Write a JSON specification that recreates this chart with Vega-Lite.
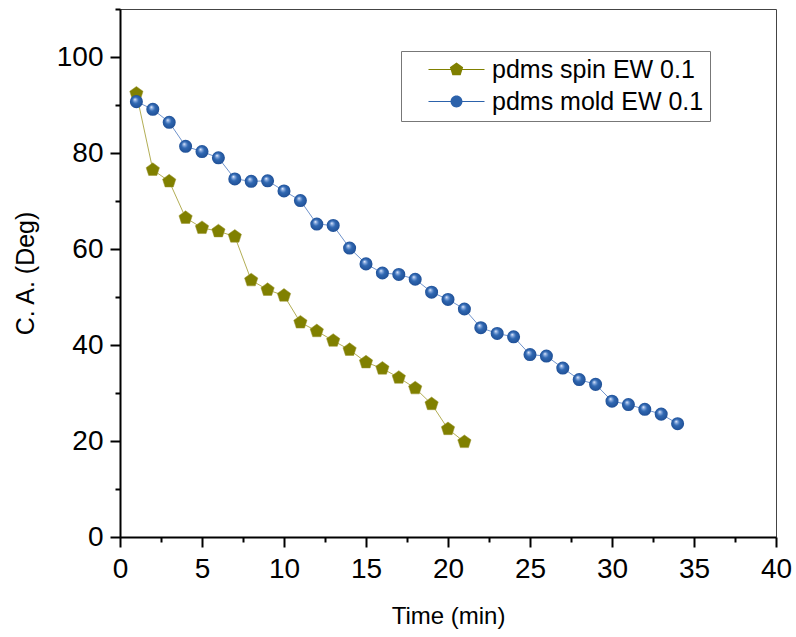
{
  "$schema": "https://vega.github.io/schema/vega-lite/v6.json",
  "width": 656,
  "height": 528,
  "autosize": {"type": "none"},
  "padding": {"left": 120, "top": 9, "right": 20, "bottom": 100},
  "background": "white",
  "config": {
    "view": {"stroke": "#444", "strokeWidth": 1},
    "font": "Liberation Sans",
    "axis": {"grid": false, "domainColor": "#000", "tickColor": "#000", "labelColor": "#000", "titleColor": "#000", "labelFont": "Liberation Sans", "titleFont": "Liberation Sans", "titleFontWeight": "normal"}
  },
  "data": {"values": [
    {"series": "pdms spin EW 0.1", "t": 1, "ca": 92.4},
    {"series": "pdms spin EW 0.1", "t": 2, "ca": 76.5},
    {"series": "pdms spin EW 0.1", "t": 3, "ca": 74.1},
    {"series": "pdms spin EW 0.1", "t": 4, "ca": 66.5},
    {"series": "pdms spin EW 0.1", "t": 5, "ca": 64.4},
    {"series": "pdms spin EW 0.1", "t": 6, "ca": 63.7},
    {"series": "pdms spin EW 0.1", "t": 7, "ca": 62.6},
    {"series": "pdms spin EW 0.1", "t": 8, "ca": 53.5},
    {"series": "pdms spin EW 0.1", "t": 9, "ca": 51.5},
    {"series": "pdms spin EW 0.1", "t": 10, "ca": 50.3},
    {"series": "pdms spin EW 0.1", "t": 11, "ca": 44.7},
    {"series": "pdms spin EW 0.1", "t": 12, "ca": 42.9},
    {"series": "pdms spin EW 0.1", "t": 13, "ca": 40.9},
    {"series": "pdms spin EW 0.1", "t": 14, "ca": 39.0},
    {"series": "pdms spin EW 0.1", "t": 15, "ca": 36.4},
    {"series": "pdms spin EW 0.1", "t": 16, "ca": 35.1},
    {"series": "pdms spin EW 0.1", "t": 17, "ca": 33.2},
    {"series": "pdms spin EW 0.1", "t": 18, "ca": 31.0},
    {"series": "pdms spin EW 0.1", "t": 19, "ca": 27.7},
    {"series": "pdms spin EW 0.1", "t": 20, "ca": 22.5},
    {"series": "pdms spin EW 0.1", "t": 21, "ca": 19.8},
    {"series": "pdms mold EW 0.1", "t": 1, "ca": 90.7},
    {"series": "pdms mold EW 0.1", "t": 2, "ca": 89.1},
    {"series": "pdms mold EW 0.1", "t": 3, "ca": 86.4},
    {"series": "pdms mold EW 0.1", "t": 4, "ca": 81.4},
    {"series": "pdms mold EW 0.1", "t": 5, "ca": 80.3},
    {"series": "pdms mold EW 0.1", "t": 6, "ca": 79.0},
    {"series": "pdms mold EW 0.1", "t": 7, "ca": 74.6},
    {"series": "pdms mold EW 0.1", "t": 8, "ca": 74.1},
    {"series": "pdms mold EW 0.1", "t": 9, "ca": 74.2},
    {"series": "pdms mold EW 0.1", "t": 10, "ca": 72.1},
    {"series": "pdms mold EW 0.1", "t": 11, "ca": 70.1},
    {"series": "pdms mold EW 0.1", "t": 12, "ca": 65.2},
    {"series": "pdms mold EW 0.1", "t": 13, "ca": 64.9},
    {"series": "pdms mold EW 0.1", "t": 14, "ca": 60.2},
    {"series": "pdms mold EW 0.1", "t": 15, "ca": 56.9},
    {"series": "pdms mold EW 0.1", "t": 16, "ca": 55.0},
    {"series": "pdms mold EW 0.1", "t": 17, "ca": 54.7},
    {"series": "pdms mold EW 0.1", "t": 18, "ca": 53.7},
    {"series": "pdms mold EW 0.1", "t": 19, "ca": 51.0},
    {"series": "pdms mold EW 0.1", "t": 20, "ca": 49.5},
    {"series": "pdms mold EW 0.1", "t": 21, "ca": 47.5},
    {"series": "pdms mold EW 0.1", "t": 22, "ca": 43.6},
    {"series": "pdms mold EW 0.1", "t": 23, "ca": 42.4},
    {"series": "pdms mold EW 0.1", "t": 24, "ca": 41.7},
    {"series": "pdms mold EW 0.1", "t": 25, "ca": 38.0},
    {"series": "pdms mold EW 0.1", "t": 26, "ca": 37.7},
    {"series": "pdms mold EW 0.1", "t": 27, "ca": 35.2},
    {"series": "pdms mold EW 0.1", "t": 28, "ca": 32.8},
    {"series": "pdms mold EW 0.1", "t": 29, "ca": 31.8},
    {"series": "pdms mold EW 0.1", "t": 30, "ca": 28.3},
    {"series": "pdms mold EW 0.1", "t": 31, "ca": 27.6},
    {"series": "pdms mold EW 0.1", "t": 32, "ca": 26.6},
    {"series": "pdms mold EW 0.1", "t": 33, "ca": 25.6},
    {"series": "pdms mold EW 0.1", "t": 34, "ca": 23.6}
  ]},
  "resolve": {"axis": {"x": "independent", "y": "independent"}},
  "layer": [
    {
      "transform": [{"filter": "datum.series === 'pdms spin EW 0.1'"}],
      "mark": {"type": "line", "color": "#b3ae55", "strokeWidth": 1},
      "encoding": {
        "x": {"field": "t", "type": "quantitative", "scale": {"domain": [0, 40], "nice": false},
          "axis": {"orient": "bottom", "values": [0, 5, 10, 15, 20, 25, 30, 35, 40], "tickSize": 10, "tickWidth": 2, "domainWidth": 2, "labelFontSize": 28, "labelPadding": 8, "labelFlush": false, "title": "Time (min)", "titleFontSize": 24, "titlePadding": 21}},
        "y": {"field": "ca", "type": "quantitative", "scale": {"domain": [0, 110], "nice": false},
          "axis": {"orient": "left", "values": [0, 20, 40, 60, 80, 100], "tickSize": 10, "tickWidth": 2, "domainWidth": 2, "labelFontSize": 28, "labelPadding": 7, "title": "C. A. (Deg)", "titleFontSize": 25, "titlePadding": 18}}
      }
    },
    {
      "transform": [{"filter": "datum.series === 'pdms mold EW 0.1'"}],
      "mark": {"type": "line", "color": "#6f93cc", "strokeWidth": 1},
      "encoding": {
        "x": {"field": "t", "type": "quantitative",
          "axis": {"orient": "bottom", "values": [2.5, 7.5, 12.5, 17.5, 22.5, 27.5, 32.5, 37.5], "tickSize": 5, "tickWidth": 2, "domain": false, "labels": false, "title": null}},
        "y": {"field": "ca", "type": "quantitative",
          "axis": {"orient": "left", "values": [10, 30, 50, 70, 90, 110], "tickSize": 5, "tickWidth": 2, "domain": false, "labels": false, "title": null}}
      }
    },
    {
      "transform": [{"filter": "datum.series === 'pdms spin EW 0.1'"}],
      "mark": {"type": "point", "filled": true, "opacity": 1, "size": 196, "fill": "#808000", "stroke": "#9a9530", "strokeWidth": 0.5,
        "shape": "M0,-1L0.951,-0.309L0.588,0.809L-0.588,0.809L-0.951,-0.309Z"},
      "encoding": {
        "x": {"field": "t", "type": "quantitative", "axis": null},
        "y": {"field": "ca", "type": "quantitative", "axis": null}
      }
    },
    {
      "transform": [{"filter": "datum.series === 'pdms mold EW 0.1'"}],
      "mark": {"type": "point", "filled": true, "opacity": 1, "size": 170, "shape": "circle", "strokeWidth": 0,
        "fill": {"gradient": "radial", "x1": 0.38, "y1": 0.32, "r1": 0, "x2": 0.5, "y2": 0.5, "r2": 0.55,
          "stops": [{"offset": 0, "color": "#f4f8ff"}, {"offset": 0.18, "color": "#8cade0"}, {"offset": 0.45, "color": "#3068b2"}, {"offset": 1, "color": "#1d4c92"}]}},
      "encoding": {
        "x": {"field": "t", "type": "quantitative", "axis": null},
        "y": {"field": "ca", "type": "quantitative", "axis": null}
      }
    },
    {
      "transform": [{"filter": "false"}],
      "mark": {"type": "point", "filled": true, "opacity": 1, "strokeWidth": 0},
      "encoding": {
        "x": {"field": "t", "type": "quantitative", "axis": null},
        "y": {"field": "ca", "type": "quantitative", "axis": null},
        "color": {"field": "series", "type": "nominal",
          "scale": {"domain": ["pdms spin EW 0.1", "pdms mold EW 0.1"], "range": ["#808000", "#2c62ab"]},
          "legend": {"title": null, "orient": "none", "legendX": 281, "legendY": 42, "labelFontSize": 25, "labelFont": "Liberation Sans", "labelColor": "#000", "labelLimit": 500, "symbolSize": 196, "symbolStrokeWidth": 0, "symbolOpacity": 1, "symbolOffset": 37, "strokeColor": "#777", "fillColor": "white", "padding": 6, "rowPadding": 6, "labelOffset": 23}},
        "shape": {"field": "series", "type": "nominal",
          "scale": {"domain": ["pdms spin EW 0.1", "pdms mold EW 0.1"],
            "range": ["M-4,-0.07L4,-0.07L4,0.07L-4,0.07Z M0,-1L0.951,-0.309L0.588,0.809L-0.588,0.809L-0.951,-0.309Z",
                      "M-4,-0.07L4,-0.07L4,0.07L-4,0.07Z M0.85,0A0.85,0.85 0 1,1 -0.85,0A0.85,0.85 0 1,1 0.85,0Z"]}}
      }
    }
  ]
}
